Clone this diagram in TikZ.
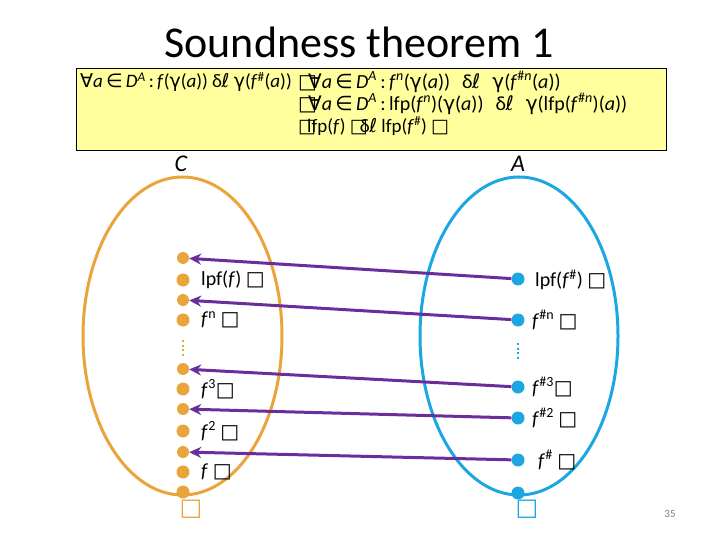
\documentclass[tikz,border=0pt]{standalone}
\usepackage{fontspec}
\setmainfont{Carlito}
\newfontfamily\symf{DejaVu Sans}
\usetikzlibrary{arrows.meta,shapes.geometric}
\definecolor{corange}{HTML}{E9A43C}
\definecolor{cblue}{HTML}{1CA7E3}
\definecolor{cpurple}{HTML}{6A2E9C}
\definecolor{cyellow}{HTML}{FFFF9E}
\newcommand{\bx}{{\symf □}}
\newcommand{\gm}{{\symf γ}}
\newcommand{\sqsym}{δ\kern-0.5pt{\symf ℓ}}
\newcommand{\sqle}{\hspace{0.6em}\sqsym\hspace{0.6em}}
\newcommand{\fa}{{\symf ∀}\textit{a}\,{\symf ∈}\,\textit{D}\textsuperscript{\textit{A}}\,:\,}
\begin{document}
\begin{tikzpicture}[x=1pt,y=-1pt,
  odot/.style={circle,fill=corange,inner sep=0pt,minimum size=13pt},
  odots/.style={circle,fill=corange,inner sep=0pt,minimum size=12pt},
  bdot/.style={circle,fill=cblue,inner sep=0pt,minimum size=13pt},
  lbl/.style={anchor=west,inner sep=0pt,font=\fontsize{20}{22}\selectfont},
  fline/.style={anchor=west,inner sep=0pt,font=\fontsize{19}{21}\selectfont},
  flinew/.style={anchor=west,inner sep=0pt,font=\fontsize{20}{22}\selectfont},
  arr/.style={draw=cpurple,line width=3pt,-{Stealth[length=12pt,width=11pt]}},
  setC/.style={ellipse,draw=corange,line width=3pt,inner sep=0pt,minimum width=199pt,minimum height=318pt},
  setA/.style={ellipse,draw=cblue,line width=3pt,inner sep=0pt,minimum width=198pt,minimum height=318pt}]
\useasboundingbox (0,0) rectangle (720,540);
\node[font=\fontsize{44}{48}\selectfont] (title) at (359,42) {Soundness theorem 1};
\node[draw=black,fill=cyellow,line width=0.8pt,minimum width=590pt,minimum height=82pt,inner sep=0pt] (box) at (371,109) {};
\node[fline] (l1) at (80,82) {\fa\textit{f}(\gm(\textit{a})) \sqsym\ \gm(\textit{f}\textsuperscript{\#}(\textit{a}))};
\node[flinew] (r1) at (298,82) {\bx\kern-9pt\fa\textit{f}\textsuperscript{\textit{n}}(\gm(\textit{a}))\sqle\gm(\textit{f}\textsuperscript{\#\textit{n}}(\textit{a}))};
\node[flinew] (r2) at (298,104) {\bx\kern-9pt\fa lfp(\textit{f}\textsuperscript{\textit{n}})(\gm(\textit{a}))\sqle\gm(lfp(\textit{f}\textsuperscript{\#\textit{n}})(\textit{a}))};
\node[fline] (r3) at (298,126) {\bx\kern-9pt lfp(\textit{f}) \bx\kern-8pt \sqsym\ lfp(\textit{f}\textsuperscript{\#}) \bx};
\node[font=\fontsize{24}{26}\selectfont\itshape] (Clab) at (181,164) {C};
\node[font=\fontsize{24}{26}\selectfont\itshape] (Alab) at (518,164) {A};
\node[setC] (Cset) at (182.5,336) {};
\node[setA] (Aset) at (519,336) {};
% orange dots
\node[odots] (o1) at (183,258) {};
\node[odot] (o2) at (183,280) {};
\node[odots] (o3) at (183,300) {};
\node[odot] (o4) at (183,320) {};
\node[odots] (o5) at (183,369) {};
\node[odot] (o6) at (183,389) {};
\node[odots] (o7) at (183,409) {};
\node[odot] (o8) at (183,431) {};
\node[odots] (o9) at (183,452) {};
\node[odot] (o10) at (183,472) {};
\node[odot] (o11) at (183,492) {};
\coordinate (ov1) at (183,340);
\coordinate (ov2) at (183,356);
\draw[corange,line width=2.5pt,dash pattern=on 2pt off 2.5pt] (ov1) -- (ov2);
% blue dots
\node[bdot] (b1) at (518,279) {};
\node[bdot] (b2) at (518,320) {};
\node[bdot] (b3) at (518,387) {};
\node[bdot] (b4) at (518,418) {};
\node[bdot] (b5) at (518,460) {};
\node[bdot] (b6) at (518,493) {};
\coordinate (bv1) at (518,343);
\coordinate (bv2) at (518,360);
\draw[cblue,line width=2.5pt,dash pattern=on 2pt off 2.5pt] (bv1) -- (bv2);
% arrows
\draw[arr] (b1) -- (o1);
\draw[arr] (b2) -- (o3);
\draw[arr] (b3) -- (o5);
\draw[arr] (b4) -- (o7);
\draw[arr] (b5) -- (o9);
% left labels
\node[lbl] (c1) at (201,280) {lpf(\textit{f}) \bx};
\node[lbl] (c2) at (201,320) {\textit{f}\textsuperscript{n} \bx};
\node[lbl] (c3) at (201,389) {\textit{f}\textsuperscript{3}\bx};
\node[lbl] (c4) at (201,431) {\textit{f}\textsuperscript{2} \bx};
\node[lbl] (c5) at (201,472) {\textit{f} \bx};
\node[inner sep=0pt,text=corange,font=\fontsize{24}{26}\selectfont] (cbot) at (191,509) {\bx};
% right labels
\node[lbl] (a1) at (535,280) {lpf(\textit{f}\textsuperscript{\#}) \bx};
\node[lbl] (a2) at (532,320) {\textit{f}\textsuperscript{\#n} \bx};
\node[lbl] (a3) at (532,387) {\textit{f}\textsuperscript{\#3}\bx};
\node[lbl] (a4) at (532,418) {\textit{f}\textsuperscript{\#2} \bx};
\node[lbl] (a5) at (538,460) {\textit{f}\textsuperscript{\#} \bx};
\node[inner sep=0pt,text=cblue,font=\fontsize{24}{26}\selectfont] (abot) at (527,509) {\bx};
\node[text=gray,font=\fontsize{11}{12}\selectfont] (pg) at (670,514) {35};
\end{tikzpicture}
\end{document}
